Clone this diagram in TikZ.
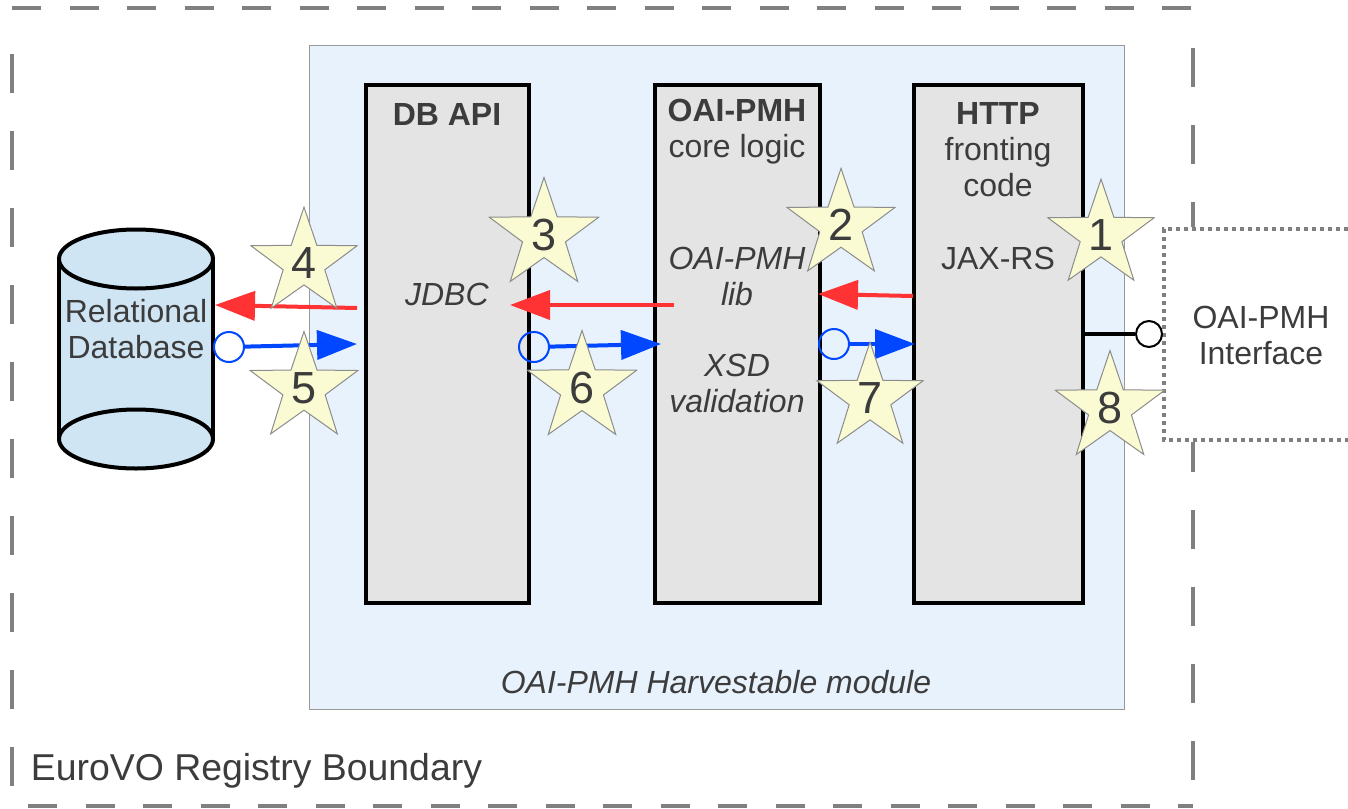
\documentclass[tikz,border=0pt]{standalone}
\usepackage{fontspec}
\setmainfont{Liberation Sans}
\usetikzlibrary{shapes.geometric,arrows.meta}
\definecolor{labelgray}{HTML}{3C3C3C}
\definecolor{modulefill}{HTML}{E8F2FC}
\definecolor{boxfill}{HTML}{E4E4E4}
\definecolor{dbfill}{HTML}{CFE5F4}
\definecolor{starfill}{HTML}{FAFBD2}
\definecolor{callred}{HTML}{FF3333}
\definecolor{callblue}{HTML}{0047FF}
\begin{document}
\begin{tikzpicture}[
		x=1pt,y=-1pt,
		every node/.style={text=labelgray,font=\fontsize{32}{36}\selectfont,align=center,inner sep=0pt},
		layerbox/.style={rectangle,draw=black,fill=boxfill,line width=3.5pt},
		numstar/.style={star,star points=5,star point ratio=2.55,minimum size=110pt,draw=black!45,fill=starfill,line width=1pt,font=\fontsize{45}{45}\selectfont},
		callback/.style={draw=callred,line width=4pt,-{Triangle[length=40pt,width=29pt]}},
		callout/.style={draw=callblue,line width=4pt,-{Triangle[length=40pt,width=29pt]}},
		socket/.style={circle,draw=callblue,line width=2pt,minimum size=30pt},
		boundaryh/.style={draw=black!50,line width=4pt,dash pattern=on 29pt off 28.5pt},
		boundaryv/.style={draw=black!50,line width=4pt,dash pattern=on 38.5pt off 38.5pt}
	]
	\useasboundingbox (0,0) rectangle (1348,808);

	\coordinate (bnw) at (12,8);
	\coordinate (bne) at (1193,8);
	\coordinate (bsw) at (12,806);
	\coordinate (bse) at (1193,806);
	\draw[boundaryh] (bnw) -- (bne);
	\draw[boundaryh] (bsw) ++(16,0) -- (bse);
	\draw[boundaryv] (bnw) ++(0,46) -- (bsw);
	\draw[boundaryv] (bne) ++(0,40) -- (bse);

	\node[rectangle,draw=black!40,fill=modulefill,line width=1pt,minimum width=815pt,minimum height=663pt] (module) at (716.5,377.5) {};
	\node[font=\fontsize{32}{36}\selectfont\itshape] (modulelabel) at (716,682) {OAI-PMH Harvestable module};
	\node[font=\fontsize{37.4}{40}\selectfont] (boundarylabel) at (256.5,771) {EuroVO Registry Boundary};

	\node[layerbox,minimum width=163pt,minimum height=518pt] (dbapi) at (447.5,344) {};
	\node[layerbox,minimum width=165pt,minimum height=518pt] (core) at (737.5,344) {};
	\node[layerbox,minimum width=169pt,minimum height=518pt] (http) at (998.5,344) {};

	\node (dbapititle) at (447,114) {\textbf{DB API}};
	\node (jdbc) at (447,294) {\textit{JDBC}};
	\node (coretitle) at (737,132) {\textbf{OAI-PMH}\\core logic};
	\node (corelib) at (737,276) {\textit{OAI-PMH}\\\textit{lib}};
	\node (xsd) at (737,383) {\textit{XSD}\\\textit{validation}};
	\node (httptitle) at (998,150) {\textbf{HTTP}\\fronting\\code};
	\node (jaxrs) at (998,258) {JAX-RS};

	\node[minimum width=154pt,minimum height=240pt] (db) at (136,349) {};
	\path[fill=dbfill] (db.north west) ++(0,30) arc[start angle=180,end angle=0,x radius=77,y radius=-29.5] -- ++(0,180) arc[start angle=0,end angle=-180,x radius=77,y radius=-29.5] -- cycle;
	\draw[black,line width=4pt] (db.north west) ++(0,30) -- ++(0,180);
	\draw[black,line width=4pt] (db.north east) ++(0,30) -- ++(0,180);
	\draw[black,line width=4pt] (136,259) ellipse[x radius=77,y radius=29.5];
	\draw[black,line width=4pt] (136,439) ellipse[x radius=77,y radius=29.5];
	\node (dblabel) at (136,329) {Relational\\Database};

	\node[rectangle,minimum width=1pt] (apiin) at (357,308) {};
	\node[rectangle,minimum width=1pt] (apiout) at (357,344) {};
	\node[rectangle,minimum width=1pt] (corein) at (674,305) {};
	\node[rectangle,minimum width=1pt] (coreout) at (661,344) {};
	\node[rectangle,minimum width=1pt] (httpin) at (913,296) {};
	\node[rectangle,minimum width=1pt] (httpout) at (915,344) {};
	\node[rectangle,minimum width=1pt] (dbin) at (215,305) {};
	\node[rectangle,minimum width=1pt] (jdbcin) at (510,305) {};
	\node[rectangle,minimum width=1pt] (libin) at (818,294) {};

	\node[socket] (dbsock) at (229,347) {};
	\node[socket] (apisock) at (534,347) {};
	\node[socket] (coresock) at (834,344) {};
	\draw[callback] (apiin.center) -- (dbin.center);
	\draw[callback] (corein.center) -- (jdbcin.center);
	\draw[callback] (httpin.center) -- (libin.center);
	\draw[callout] (dbsock) -- (apiout.center);
	\draw[callout] (apisock) -- (coreout.center);
	\draw[callout] (coresock) -- (httpout.center);

	\draw[black!50,line width=4pt,white,fill=white] (1164,229) rectangle (1348,440);
	\coordinate (ifne) at (1348,229);
	\coordinate (ifnw) at (1164,229);
	\coordinate (ifsw) at (1164,440);
	\coordinate (ifse) at (1348,440);
	\draw[black!50,line width=4pt,dash pattern=on 4pt off 4pt] (ifne) -- (ifnw) -- (ifsw) -- (ifse);
	\node (iflabel) at (1261,335) {OAI-PMH\\Interface};
	\node[circle,draw=black,fill=white,line width=2pt,minimum size=26pt] (ifsock) at (1149,334) {};
	\draw[black,line width=3.5pt] (http.east |- ifsock) -- (ifsock);

	\node[numstar] (star1) at (1101,235) {1};
	\node[numstar] (star2) at (841,225) {2};
	\node[numstar] (star3) at (544,235) {3};
	\node[numstar] (star4) at (304,263) {4};
	\node[numstar] (star5) at (304,388) {5};
	\node[numstar] (star6) at (582,388) {6};
	\node[numstar] (star7) at (870,398) {7};
	\node[numstar] (star8) at (1110,408) {8};
\end{tikzpicture}
\end{document}
